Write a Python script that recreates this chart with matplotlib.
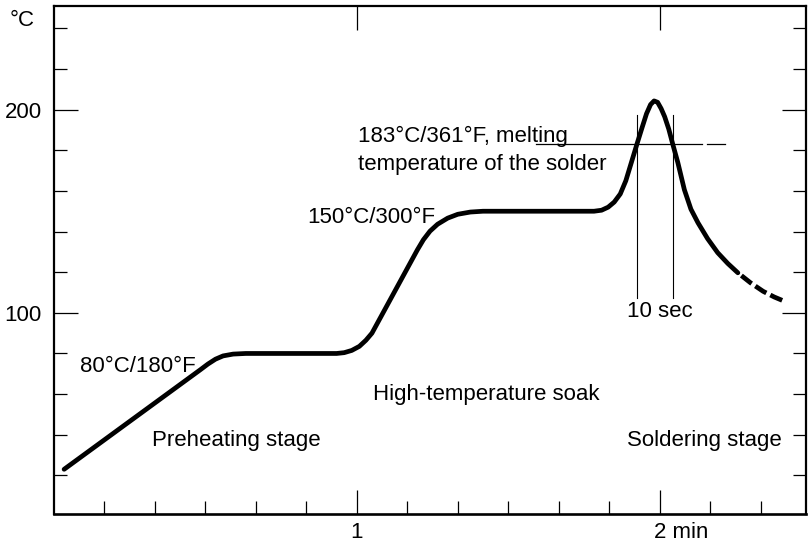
import matplotlib
matplotlib.use("Agg")
import matplotlib.pyplot as plt
from matplotlib.ticker import FixedLocator

plt.rcParams["font.family"] = ["Liberation Sans", "DejaVu Sans"]

# Reflow temperature profile (time in seconds, temperature in °C)
time_s = [2, 29, 30.5, 32, 33.5, 35.5, 38, 56, 57.5, 59, 60.5, 61.8, 63,
          72, 73.2, 74.5, 76, 78, 80, 82.5, 85, 107, 108.5, 109.8, 111,
          112.2, 113.3, 114.4, 115.5, 116.5, 117.4, 118.2, 118.9, 119.6,
          120.3, 121.0, 121.8, 122.6, 123.6, 124.9, 126.2, 127.6, 129.5,
          131.5, 133.5, 135.5]
temp_c = [23, 72, 74.8, 77.2, 78.8, 79.7, 80, 80, 80.4, 81.5, 83.5, 86.5, 90,
          131, 136, 140.2, 143.6, 146.6, 148.5, 149.6, 150, 150, 150.5, 152,
          154.5, 158.5, 165, 174, 183, 191, 198, 202.5, 204.3, 203.6,
          200.5, 196.5, 190.5, 183, 174, 160.6, 151, 144.3, 136.5,
          129.6, 124.3, 119.7]

# Cooling tail, drawn dashed
cool_time_s = [135.5, 138, 140.5, 142.7, 145.0]
cool_temp_c = [119.7, 114.8, 110.6, 107.8, 105.4]

# Solder melting point and the time spent above it
melt_c = 183
melt_solid_s = [95.5, 128.3]
melt_dash_s = [129.4, 132.9]
above_melt_s = [115.5, 122.6]
marker_span_c = [107.4, 197.5]

x_major = [60, 120]
x_minor = [10, 20, 30, 40, 50, 70, 80, 90, 100, 110, 130, 140]
y_major = [100, 200]
y_minor = [20, 40, 60, 80, 120, 140, 160, 180, 220, 240]

W, H = 809, 551
fig = plt.figure(figsize=(W / 100, H / 100), dpi=100)
ax = fig.add_axes([54 / W, 1 - 514 / H, (806 - 54) / W, (514 - 6) / H])
ax.set_xlim(0, 149)
ax.set_ylim(1, 251)

fs = 16
lw_curve = 3.4
ax.plot(time_s, temp_c, color="black", lw=lw_curve, solid_capstyle="round",
        solid_joinstyle="round")
# dash pattern starts with a gap so the tail separates from the solid part
ax.plot(cool_time_s, cool_temp_c, color="black", lw=lw_curve,
        linestyle=(2.75, (2.75, 0.95)), dash_capstyle="butt")

ax.plot(melt_solid_s, [melt_c, melt_c], color="black", lw=0.9)
ax.plot(melt_dash_s, [melt_c, melt_c], color="black", lw=0.9)
for t in above_melt_s:
    ax.plot([t, t], marker_span_c, color="black", lw=0.8)

for side in ["left", "bottom", "top", "right"]:
    ax.spines[side].set_linewidth(1.6)
ax.spines["bottom"].set_linewidth(1.9)

ax.xaxis.set_major_locator(FixedLocator(x_major))
ax.xaxis.set_minor_locator(FixedLocator(x_minor))
ax.yaxis.set_major_locator(FixedLocator(y_major))
ax.yaxis.set_minor_locator(FixedLocator(y_minor))
ax.set_xticklabels(["1", ""])
ax.set_yticklabels(["100", "200"])

ax.tick_params(axis="both", which="major", direction="in", length=17,
               width=0.9, labelsize=fs, color="black")
ax.tick_params(axis="both", which="minor", direction="in", length=9.5,
               width=0.9, color="black")
ax.tick_params(axis="y", which="both", left=True, right=True, pad=9)
ax.tick_params(axis="x", which="major", top=True, bottom=True, pad=6)
ax.tick_params(axis="x", which="minor", top=False, bottom=True)

ax.annotate("2 min", xy=(120, 1), xycoords="data", xytext=(-4.4, -6),
            textcoords="offset points", ha="left", va="top", fontsize=fs,
            annotation_clip=False)

fig.text(10 / W, 1 - 20 / H, "°C", ha="left", va="center", fontsize=fs)

ax.text(5.2, 73.4, "80°C/180°F", ha="left", va="center", fontsize=fs)
ax.text(19.4, 37.4, "Preheating stage", ha="left", va="center", fontsize=fs)
ax.text(63.2, 59.6, "High-temperature soak", ha="left", va="center",
        fontsize=fs)
ax.text(144.2, 37.4, "Soldering stage", ha="right", va="center", fontsize=fs)
ax.text(50.1, 146.8, "150°C/300°F", ha="left", va="center", fontsize=fs)
ax.text(60.2, 186.7, "183°C/361°F, melting", ha="left", va="center",
        fontsize=fs)
ax.text(60.2, 172.9, "temperature of the solder", ha="left", va="center",
        fontsize=fs)
ax.text(120.0, 100.5, "10 sec", ha="center", va="center", fontsize=fs)

fig.savefig("out.png", dpi=100)
